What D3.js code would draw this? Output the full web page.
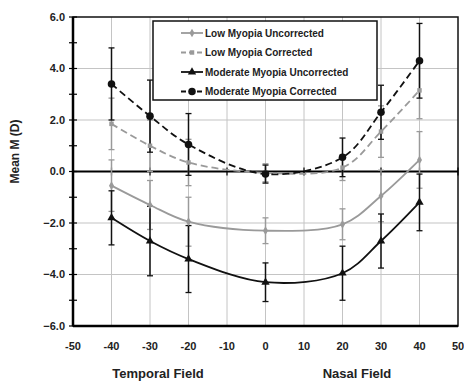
<!DOCTYPE html>
<html>
<head>
<meta charset="utf-8">
<script src="https://cdn.jsdelivr.net/npm/d3@7"></script>
<style>
  body { margin:0; background:#fff; }
  svg text { font-family: "Liberation Sans", Arial, sans-serif; font-weight: bold; }
</style>
</head>
<body>
<div id="chart"></div>
<script>
// field positions (deg), negative = temporal
var fieldPos = [-40, -30, -20, 0, 20, 30, 40];
var seriesNames = ["Low Myopia Uncorrected", "Low Myopia Corrected",
                   "Moderate Myopia Uncorrected", "Moderate Myopia Corrected"];
// mean M values
var lowUncorr  = [-0.55, -1.3, -1.95, -2.3, -2.05, -0.95, 0.45];
var lowCorr    = [1.85, 1.0, 0.35, -0.05, 0.15, 1.55, 3.15];
var modUncorr  = [-1.8, -2.7, -3.4, -4.3, -3.95, -2.7, -1.2];
var modCorr    = [3.4, 2.15, 1.05, -0.1, 0.55, 2.3, 4.3];
// standard deviations (error bars)
var lowUncorrSD = [1.0, 0.95, 0.95, 0.5, 0.6, 1.0, 1.1];
var lowCorrSD   = [1.0, 1.0, 0.9, 0.35, 0.5, 1.0, 1.1];
var modUncorrSD = [1.05, 1.35, 1.3, 0.75, 1.05, 1.05, 1.1];
var modCorrSD   = [1.4, 1.4, 1.2, 0.35, 0.75, 1.05, 1.45];
var xTicks = [-50, -40, -30, -20, -10, 0, 10, 20, 30, 40, 50];
var yTicks = [-6, -4, -2, 0, 2, 4, 6];

var wdim = 464, hdim = 383;
var margin = {top:17, right:6, bottom:57, left:73};
var width = wdim - margin.left - margin.right,
    height = hdim - margin.top - margin.bottom;

var svg = d3.select("#chart").append("svg")
  .attr("width", wdim).attr("height", hdim);
var g = svg.append("g").attr("transform", "translate(" + margin.left + "," + margin.top + ")");

var x = d3.scaleLinear().domain([-50, 50]).range([0, width]);
var y = d3.scaleLinear().domain([-6, 6]).range([height, 0]);

// grid
g.selectAll(".vgrid").data(xTicks.slice(1, -1)).enter().append("line")
  .attr("x1", d => x(d)).attr("x2", d => x(d)).attr("y1", 0).attr("y2", height)
  .attr("stroke", "#c4c4c4").attr("stroke-width", 1);
g.selectAll(".hgrid").data([-4, -2, 2, 4]).enter().append("line")
  .attr("x1", 0).attr("x2", width).attr("y1", d => y(d)).attr("y2", d => y(d))
  .attr("stroke", "#c4c4c4").attr("stroke-width", 1.2);

// frame
g.append("rect").attr("width", width).attr("height", height)
  .attr("fill", "none").attr("stroke", "#111").attr("stroke-width", 1.5);
g.append("line").attr("x1", 0).attr("x2", 0).attr("y1", 0).attr("y2", height)
  .attr("stroke", "#000").attr("stroke-width", 2.5);
g.append("line").attr("x1", 0).attr("x2", width).attr("y1", height).attr("y2", height)
  .attr("stroke", "#000").attr("stroke-width", 2.5);

// zero line with ticks
g.append("line").attr("x1", 0).attr("x2", width).attr("y1", y(0)).attr("y2", y(0))
  .attr("stroke", "#000").attr("stroke-width", 1.8);
g.selectAll(".zt").data(xTicks).enter().append("line")
  .attr("x1", d => x(d)).attr("x2", d => x(d)).attr("y1", y(0) - 4).attr("y2", y(0) + 4)
  .attr("stroke", "#000").attr("stroke-width", 1.2);

// y minor ticks
g.selectAll(".ym").data(d3.range(-6, 7, 1)).enter().append("line")
  .attr("x1", -4).attr("x2", 4).attr("y1", d => y(d)).attr("y2", d => y(d))
  .attr("stroke", "#000").attr("stroke-width", 1.2);

// tick labels
g.selectAll(".yl").data(yTicks).enter().append("text")
  .attr("x", -8).attr("y", d => y(d)).attr("dy", "0.35em")
  .attr("text-anchor", "end").style("font-size", "11px").attr("fill", "#222")
  .text(d => d3.format(".1f")(d));
g.selectAll(".xl").data(xTicks).enter().append("text")
  .attr("x", d => x(d)).attr("y", height + 24)
  .attr("text-anchor", "middle").style("font-size", "11px").attr("fill", "#222")
  .text(d => d);

// axis titles
svg.append("text").attr("transform", "translate(19," + (margin.top + y(0) - 20) + ") rotate(-90)")
  .attr("text-anchor", "middle").style("font-size", "12px").attr("fill", "#222")
  .text("Mean M (D)");
svg.append("text").attr("x", 158).attr("y", 378).attr("text-anchor", "middle")
  .style("font-size", "13px").attr("fill", "#222").text("Temporal Field");
svg.append("text").attr("x", 357).attr("y", 378).attr("text-anchor", "middle")
  .style("font-size", "13px").attr("fill", "#222").text("Nasal Field");

// series
var series = [
  {name: seriesNames[0], vals: lowUncorr, sd: lowUncorrSD, color: "#9a9a9a", dash: null, sym: d3.symbolDiamond, size: 22},
  {name: seriesNames[1], vals: lowCorr, sd: lowCorrSD, color: "#9a9a9a", dash: "7,4", sym: d3.symbolSquare, size: 20},
  {name: seriesNames[2], vals: modUncorr, sd: modUncorrSD, color: "#111", dash: null, sym: d3.symbolTriangle, size: 30},
  {name: seriesNames[3], vals: modCorr, sd: modCorrSD, color: "#111", dash: "7,4", sym: d3.symbolCircle, size: 45}
];

var line = d3.line().x(d => x(d[0])).y(d => y(d[1])).curve(d3.curveCatmullRom.alpha(0.5));

series.forEach(function(s){
  var pts = fieldPos.map((f, i) => [f, s.vals[i], s.sd[i]]);
  var eb = g.append("g");
  eb.selectAll("line.v").data(pts).enter().append("line")
    .attr("x1", d => x(d[0])).attr("x2", d => x(d[0]))
    .attr("y1", d => y(d[1] + d[2])).attr("y2", d => y(d[1] - d[2]))
    .attr("stroke", s.color).attr("stroke-width", 1.5);
  eb.selectAll("line.t").data(pts).enter().append("line")
    .attr("x1", d => x(d[0]) - 3).attr("x2", d => x(d[0]) + 3)
    .attr("y1", d => y(d[1] + d[2])).attr("y2", d => y(d[1] + d[2]))
    .attr("stroke", s.color).attr("stroke-width", 1.3);
  eb.selectAll("line.b").data(pts).enter().append("line")
    .attr("x1", d => x(d[0]) - 3).attr("x2", d => x(d[0]) + 3)
    .attr("y1", d => y(d[1] - d[2])).attr("y2", d => y(d[1] - d[2]))
    .attr("stroke", s.color).attr("stroke-width", 1.3);
});

series.forEach(function(s){
  var pts = fieldPos.map((f, i) => [f, s.vals[i]]);
  g.append("path").datum(pts).attr("d", line)
    .attr("fill", "none").attr("stroke", s.color).attr("stroke-width", 1.8)
    .attr("stroke-dasharray", s.dash);
  g.selectAll(null).data(pts).enter().append("path")
    .attr("d", d3.symbol().type(s.sym).size(s.size))
    .attr("transform", d => "translate(" + x(d[0]) + "," + y(d[1]) + ")")
    .attr("fill", s.color);
});

// legend
var lg = svg.append("g").attr("transform", "translate(153,21)");
lg.append("rect").attr("width", 224).attr("height", 79)
  .attr("fill", "#fff").attr("stroke", "#111").attr("stroke-width", 1.5);
series.forEach(function(s, i){
  var ly = 12 + i * 19.5;
  lg.append("line").attr("x1", 28).attr("x2", 50).attr("y1", ly).attr("y2", ly)
    .attr("stroke", s.color).attr("stroke-width", 1.8).attr("stroke-dasharray", s.dash ? "5,3" : null);
  lg.append("path").attr("d", d3.symbol().type(s.sym).size(s.size))
    .attr("transform", "translate(39," + ly + ")").attr("fill", s.color);
  lg.append("text").attr("x", 52).attr("y", ly).attr("dy", "0.35em")
    .style("font-size", "10px").attr("fill", "#222").text(s.name);
});
</script>
</body>
</html>
